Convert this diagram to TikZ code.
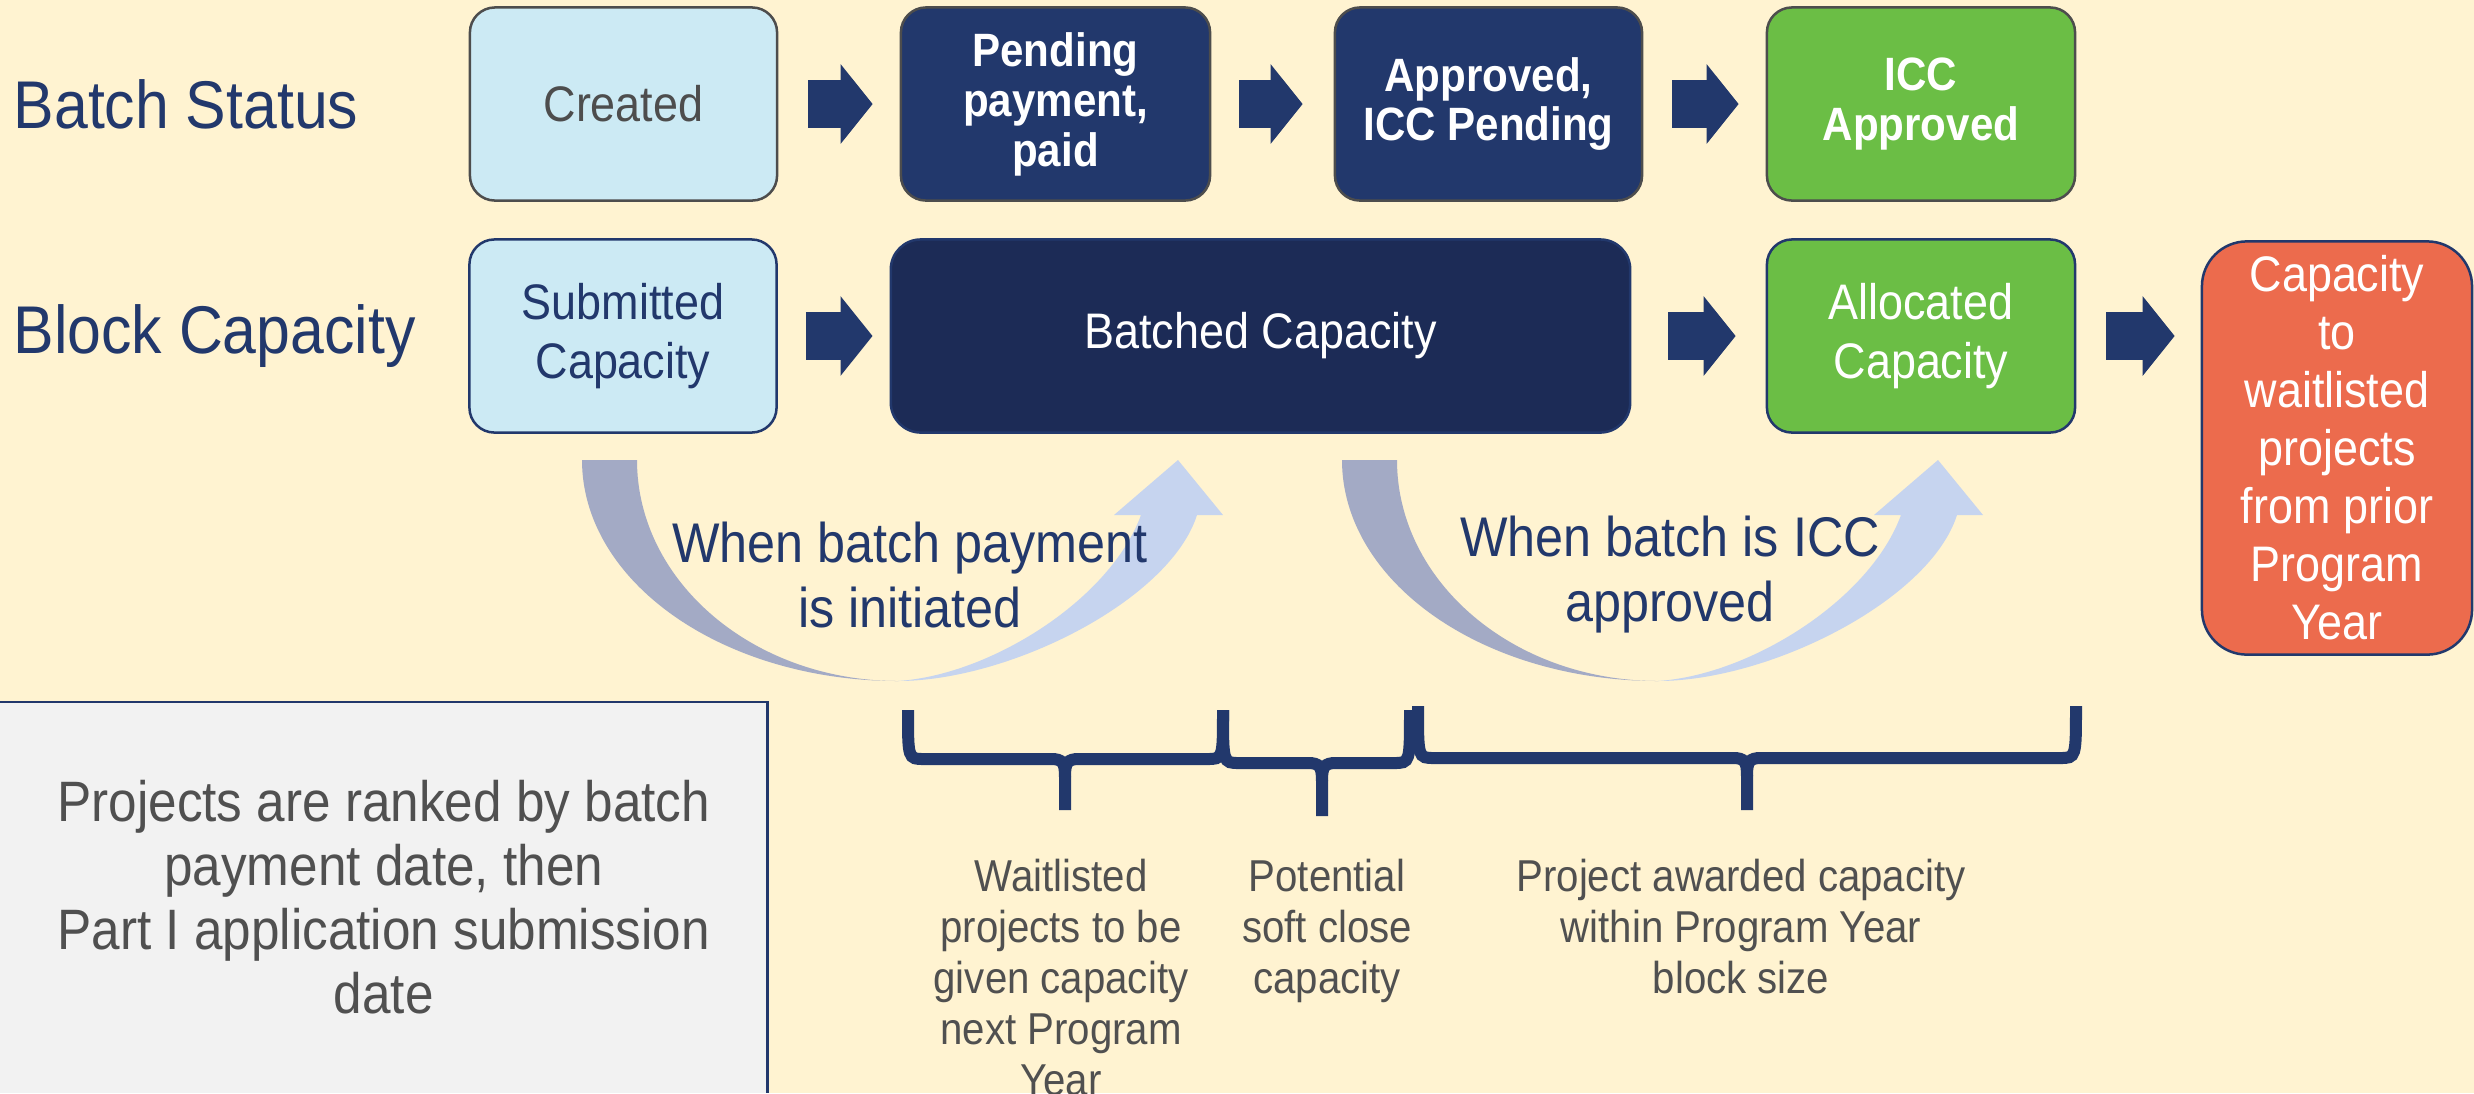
\documentclass[tikz,border=0pt]{standalone}
\usepackage{fontspec}
\setmainfont{Liberation Sans}[FakeStretch=0.9]
\usepackage{tikz}
\usetikzlibrary{arrows.meta}

\definecolor{cream}{HTML}{FFF3D1}
\definecolor{paleblue}{HTML}{CCEAF4}
\definecolor{navy}{HTML}{22386C}
\definecolor{deepnavy}{HTML}{1C2B56}
\definecolor{leaf}{HTML}{6BBE45}
\definecolor{coral}{HTML}{EC6B4D}
\definecolor{edgegray}{HTML}{4D4D4D}
\definecolor{textgray}{HTML}{505050}
\definecolor{notegray}{HTML}{F2F2F2}
\definecolor{bendgray}{HTML}{A3AAC5}
\definecolor{bendblue}{HTML}{C6D4EF}

\newcommand{\capbrace}[6]{
	\draw[bracepath] (#1,#3) .. controls (#1,#4) .. (#1+16,#4) -- (#5-14,#4) .. controls (#5-2,#4) and (#5,#4+4) .. (#5,#4+18) -- (#5,#6);
	\draw[bracepath] (#2,#3) .. controls (#2,#4) .. (#2-16,#4) -- (#5+14,#4) .. controls (#5+2,#4) and (#5,#4+4) .. (#5,#4+18);
}

\begin{document}
\begin{tikzpicture}[x=0.01cm, y=-0.01cm,
	box/.style={rounded corners=0.25cm, minimum width=3.07cm, minimum height=1.93cm, inner sep=0, align=center, line width=0.025cm},
	plain/.style={font=\fontsize{14.2}{16.8}\selectfont},
	heavy/.style={font=\bfseries\fontsize{13.3}{14.2}\selectfont},
	blk/.style={draw=navy, line width=0.47cm, -{Triangle[length=0.32cm, width=0.78cm]}},
	bracepath/.style={draw=navy, line width=0.12cm},
	small/.style={font=\fontsize{12.7}{14.5}\selectfont, text=textgray, align=center, inner sep=0, anchor=north}]
				\useasboundingbox (0,0) rectangle (2474,1093);
				\fill[cream] (0,0) rectangle (2474,1093);
				\node[anchor=west, inner sep=0, text=navy, font=\fontsize{19.2}{23}\selectfont] (8) at (13,104) {Batch Status};
				\node[anchor=west, inner sep=0, text=navy, font=\fontsize{19.2}{23}\selectfont] (9) at (13,336) {Block Capacity};
				\node[box, plain, fill=paleblue, draw=edgegray, text=edgegray] (0) at (623.5,104) {Created};
				\node[box, heavy, fill=navy, draw=edgegray, text=white, minimum width=3.09cm] (1) at (1055.5,104) {Pending\\payment,\\paid};
				\node[box, heavy, fill=navy, draw=edgegray, text=white] (2) at (1488.5,104) {Approved,\\ICC Pending};
				\node[box, heavy, fill=leaf, draw=edgegray, text=white, minimum width=3.08cm] (3) at (1921,104) {ICC\\Approved};
				\node[box, plain, fill=paleblue, draw=navy, text=navy] (4) at (623,336) {Submitted\\Capacity};
				\node[box, plain, fill=deepnavy, draw=navy, text=white, minimum width=7.39cm, rounded corners=0.3cm] (5) at (1260.5,336) {Batched Capacity};
				\node[box, plain, fill=leaf, draw=navy, text=white, minimum width=3.08cm] (6) at (1921,336) {Allocated\\Capacity};
				\node[box, fill=coral, draw=navy, text=white, minimum width=2.7cm, minimum height=4.13cm, rounded corners=0.45cm, font=\fontsize{14.2}{16.5}\selectfont] (7) at (2337,448) {Capacity\\to\\waitlisted\\projects\\from prior\\Program\\Year};
				\draw[blk, shorten <=0.30cm, shorten >=0.27cm] (0) to (1);
				\draw[blk, shorten <=0.28cm, shorten >=0.31cm] (1) to (2);
				\draw[blk, shorten <=0.29cm, shorten >=0.27cm] (2) to (3);
				\draw[blk, shorten <=0.28cm, shorten >=0.17cm] (4) to (5);
				\draw[blk, shorten <=0.37cm, shorten >=0.30cm] (5) to (6);
				\draw[blk, shorten <=0.30cm, shorten >=0.26cm] (6.east) to (6.east -| 7.west);
				\foreach \dx in {0,760} {
					\begin{scope}[shift={(\dx,0)}]
						\fill[bendgray] (582,460) .. controls (582,582) and (723,681) .. (898,681) .. controls (754,681) and (637,582) .. (637,460) -- cycle;
						\fill[bendblue] (898,681) .. controls (1010,681) and (1170,600) .. (1197,515) -- (1223,515) -- (1178,460) -- (1114,515) -- (1141,515) .. controls (1110,600) and (990,675) .. (898,681) -- cycle;
					\end{scope}
				}
				\node[text=navy, align=center, font=\fontsize{15.9}{18.5}\selectfont] (10) at (910,575) {When batch payment\\is initiated};
				\node[text=navy, align=center, font=\fontsize{15.9}{18.5}\selectfont] (11) at (1670,575) {When batch is ICC\\approved};
				\capbrace{908}{1223}{710}{759}{1065}{810}
				\capbrace{1223}{1410}{710}{763}{1322}{816}
				\capbrace{1418}{2076}{706}{758}{1747}{810}
				\node[small] (12) at (1061,858) {Waitlisted\\projects to be\\given capacity\\next Program\\Year};
				\node[small] (13) at (1327,858) {Potential\\soft close\\capacity};
				\node[small] (14) at (1741,858) {Project awarded capacity\\within Program Year\\block size};
				\node[fill=notegray, anchor=north west, inner sep=0, outer sep=0, minimum width=7.67cm, minimum height=3.91cm, align=center, text=textgray, font=\fontsize{16.2}{18.2}\selectfont] (15) at (0,702) {Projects are ranked by batch\\payment date, then\\Part I application submission\\date};
				\draw[navy, line width=0.025cm] (15.north west) -- (15.north east) -- (15.south east);
			\end{tikzpicture}
\end{document}
